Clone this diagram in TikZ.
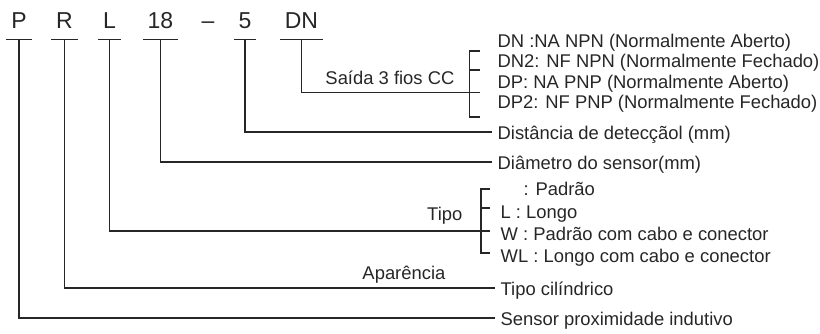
\documentclass[tikz,border=0pt]{standalone}
\usepackage{fontspec}
\setmainfont{Liberation Sans}
\usetikzlibrary{positioning}
\definecolor{ink}{gray}{0.15}

\begin{document}
\begin{tikzpicture}[x=0.5pt, y=-0.5pt, text height=0.72em, text depth=0pt, line width=0.65pt, draw=ink, text=ink]
    \tikzset{%
      code/.style={font=\fontsize{11.5}{13}\selectfont, inner xsep=2.1pt, inner ysep=5.25pt, anchor=south},
      item/.style={font=\fontsize{9.2}{11}\selectfont, inner xsep=2.5pt, inner ysep=0pt, anchor=west},
      group/.style={item, anchor=east}
      }
    \useasboundingbox (0,0) rectangle (820,333);

    % Modellcode
    \node [code] (cP) at (19,39.5) {P};
    \node [code] (cR) at (64.5,39.5) {R};
    \node [code] (cL) at (109.5,39.5) {L};
    \node [code] (c18) at (160.5,39.5) {18};
    \node [code] (cDash) at (208,39.5) {–};
    \node [code] (c5) at (245,39.5) {5};
    \node [code] (cDN) at (301.5,39.5) {DN};
    \foreach \c in {cP,cR,cL,c18,c5,cDN}
      \draw (\c.south west) -- (\c.south east);

    % Saida
    \node [item] (oDN) at (492,40) {DN :NA NPN (Normalmente Aberto)};
    \node [item] (oDN2) at (492,60.5) {DN2: NF NPN (Normalmente Fechado)};
    \node [item] (oDP) at (492,81) {DP: NA PNP (Normalmente Aberto)};
    \node [item] (oDP2) at (492,101.5) {DP2: NF PNP (Normalmente Fechado)};
    \node [group] (gSaida) at (460,77) {Saída 3 fios CC};
    \coordinate (bDN) at (480,92.5);
    \draw (480,51) -| (469.5,117) -- (480,117);
    \draw (469.5,70) -- (480,70);
    \draw (cDN.south) |- (bDN);

    \node [item] (lDist) at (492,132) {Distância de detecçãol (mm)};
    \draw (c5.south) |- (lDist.west);
    \node [item] (lDiam) at (492,162) {Diâmetro do sensor(mm)};
    \draw (c18.south) |- (lDiam.west);

    % Tipo
    \node [item] (tPad) at (495,188) {\hspace{11.5pt}: Padrão};
    \node [item] (tL) at (495,211) {L : Longo};
    \node [item] (tW) at (495,233) {W : Padrão com cabo e conector};
    \node [item] (tWL) at (495,255) {WL : Longo com cabo e conector};
    \node [group] (gTipo) at (468,213) {Tipo};
    \coordinate (bTipo) at (490,231);
    \draw (490,189) -| (481,253) -- (490,253);
    \draw (481,208) -- (490,208);
    \draw (cL.south) |- (bTipo);

    \node [group] (gAparencia) at (451,272) {Aparência};
    \node [item] (lCil) at (495,288) {Tipo cilíndrico};
    \draw (cR.south) |- (lCil.west);
    \node [item] (lSensor) at (495,318) {Sensor proximidade indutivo};
    \draw (cP.south) |- (lSensor.west);

  \end{tikzpicture}
\end{document}
